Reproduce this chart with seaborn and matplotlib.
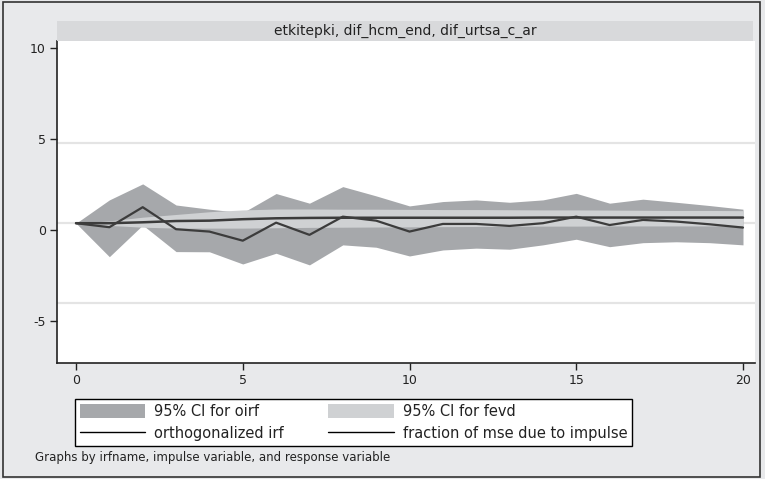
import numpy as np
import pandas as pd
import matplotlib
matplotlib.use("Agg")
import matplotlib.pyplot as plt
from matplotlib.patches import Patch, Rectangle
from matplotlib.lines import Line2D
import seaborn as sns

# ---- data ----
steps = list(range(21))
oirf = [0.37, 0.15, 1.25, 0.04, -0.09, -0.59, 0.40, -0.27, 0.73, 0.51, -0.09,
        0.33, 0.33, 0.22, 0.37, 0.73, 0.27, 0.55, 0.46, 0.31, 0.13]
oirf_lo = [0.37, -1.47, 0.27, -1.19, -1.20, -1.87, -1.28, -1.92, -0.82, -0.95, -1.43,
           -1.10, -1.00, -1.06, -0.82, -0.51, -0.92, -0.70, -0.65, -0.70, -0.82]
oirf_hi = [0.37, 1.65, 2.53, 1.37, 1.14, 0.95, 2.00, 1.47, 2.38, 1.87, 1.32,
           1.56, 1.65, 1.52, 1.65, 2.01, 1.47, 1.69, 1.52, 1.34, 1.14]
fevd = [0.37, 0.37, 0.42, 0.49, 0.51, 0.59, 0.64, 0.66, 0.67, 0.67, 0.67,
        0.67, 0.67, 0.67, 0.68, 0.68, 0.68, 0.68, 0.68, 0.68, 0.68]
fevd_lo = [0.37, 0.25, 0.15, 0.10, 0.10, 0.10, 0.12, 0.14, 0.15, 0.16, 0.17,
           0.18, 0.19, 0.20, 0.21, 0.21, 0.22, 0.22, 0.22, 0.22, 0.22]
fevd_hi = [0.37, 0.50, 0.70, 0.85, 1.00, 1.10, 1.15, 1.15, 1.14, 1.14, 1.13,
           1.12, 1.12, 1.11, 1.10, 1.10, 1.09, 1.08, 1.07, 1.07, 1.06]
panel_title = "etkitepki, dif_hcm_end, dif_urtsa_c_ar"
legend_labels = ["95% CI for oirf", "orthogonalized irf",
                 "95% CI for fevd", "fraction of mse due to impulse"]
note = "Graphs by irfname, impulse variable, and response variable"
yticks = [-5, 0, 5, 10]
xticks = [0, 5, 10, 15, 20]
grid_levels = [4.8, 0.38, -4.0]

df = pd.DataFrame({"step": steps, "oirf": oirf, "fevd": fevd})

sns.set_theme(style="white")
plt.rcParams["font.family"] = ["DejaVu Sans"]
plt.rcParams["axes.unicode_minus"] = False

BG = "#e8e9eb"
DARK = "#a6a8ab"
LIGHT = "#cfd1d3"
LINE = "#3c3c3c"

W, H = 765, 479
fig = plt.figure(figsize=(W / 100, H / 100), dpi=100, facecolor=BG)

ax = fig.add_axes([57 / W, (H - 363) / H, 698 / W, 322 / H])
ax.set_facecolor("white")

for g in grid_levels:
    ax.axhline(g, color="#e4e4e4", lw=1.6, zorder=0)

ax.fill_between(steps, oirf_lo, oirf_hi, color=DARK, lw=0, zorder=1)
ax.fill_between(steps, fevd_lo, fevd_hi, color=LIGHT, lw=0, zorder=2)
sns.lineplot(data=df, x="step", y="oirf", ax=ax, color=LINE, lw=1.6, zorder=3)
sns.lineplot(data=df, x="step", y="fevd", ax=ax, color=LINE, lw=1.8, zorder=3)

ax.set_xlim(-0.57, 20.36)
ax.set_ylim(-7.31, 10.38)
ax.set_xticks(xticks)
ax.set_yticks(yticks)
ax.set_xlabel("")
ax.set_ylabel("")
for s in ["top", "right"]:
    ax.spines[s].set_visible(False)
for s in ["left", "bottom"]:
    ax.spines[s].set_color("#222222")
    ax.spines[s].set_linewidth(1.2)
ax.tick_params(axis="both", which="both", direction="out", length=5, width=1,
               color="#222222", labelsize=9, labelcolor="#222222", pad=3,
               left=True, bottom=True)

# title strip
tax = fig.add_axes([57 / W, (H - 41) / H, 696 / W, 20 / H])
tax.set_facecolor("#d8d9db")
tax.set_xticks([])
tax.set_yticks([])
for s in tax.spines.values():
    s.set_visible(False)
tax.text(0.5, 0.5, panel_title, ha="center", va="center", fontsize=10,
         color="#222222", transform=tax.transAxes)

# legend
handles = [Patch(facecolor=DARK, edgecolor="none"),
           Line2D([], [], color="black", lw=1),
           Patch(facecolor=LIGHT, edgecolor="none"),
           Line2D([], [], color="black", lw=1)]
leg = fig.legend(handles, legend_labels, ncol=2, loc="upper left",
                 bbox_to_anchor=(75 / W, (H - 447) / H, 557 / W, 48 / H),
                 mode="expand", frameon=True,
                 fancybox=False, edgecolor="black", facecolor="white",
                 framealpha=1, fontsize=10.5, handlelength=4.5, handleheight=1.15,
                 handletextpad=0.6, columnspacing=1.8, labelspacing=0.5,
                 borderpad=0.32, borderaxespad=0)
leg.get_frame().set_linewidth(1.0)
for t in leg.get_texts():
    t.set_color("#222222")

fig.text(35 / W, (H - 458) / H, note, ha="left", va="center", fontsize=8.5,
         color="#222222")

# outer border
fig.patches.append(Rectangle((3 / W, 2 / H), 757 / W, 475 / H, transform=fig.transFigure,
                             fill=False, edgecolor="#333333", lw=1.2))

fig.savefig("out.png", dpi=100, facecolor=BG)
